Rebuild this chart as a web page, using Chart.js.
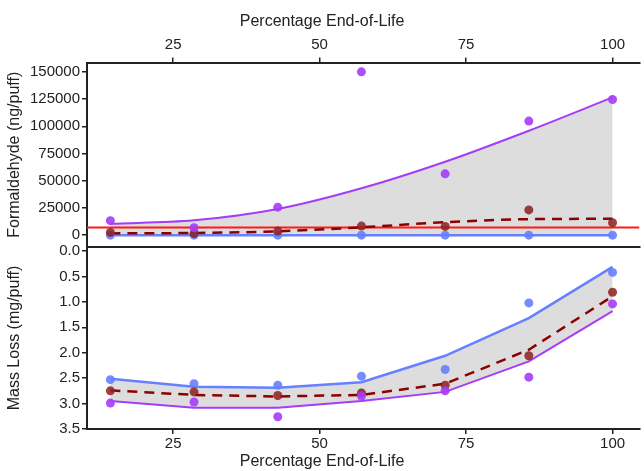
<!DOCTYPE html>
<html>
<head>
<meta charset="utf-8">
<script src="https://cdn.jsdelivr.net/npm/chart.js@4.4.0/dist/chart.umd.min.js"></script>
<style>
html, body { margin: 0; padding: 0; background: #fff; }
#wrap { position: relative; width: 644px; height: 471px; overflow: hidden; }
#top { position: absolute; left: 0; top: 0; }
#bottom { position: absolute; left: 0; top: 235px; }
</style>
</head>
<body>
<div id="wrap">
  <canvas id="top" width="644" height="258"></canvas>
  <canvas id="bottom" width="644" height="236"></canvas>
</div>
<script>
const pctLife = [14.29, 28.57, 42.86, 57.14, 71.43, 85.71, 100];
const xTicks = [25, 50, 75, 100];
const xRange = [10.3, 104.6];

// formaldehyde (ng/puff)
const formBlueObs = [0, 0, 0, 0, 0, 0, 0];
const formPurpleObs = [13300, 6800, 25700, 150000, 56300, 104800, 124600];
const formRedObs = [2500, 1500, 3700, 8300, 8000, 23200, 11400];
const formBlueFit = [0, 0, 0, 0, 0, 0, 0];
const formPurpleFit = [10500, 13600, 24000, 43000, 67400, 95900, 126500];
const formRedFit = [1600, 2000, 3500, 7200, 11900, 14700, 15000];
const formLimit = 7100;
const formTicks = [0, 25000, 50000, 75000, 100000, 125000, 150000];
const formRange = [-10900, 158600];

// mass loss (mg/puff)
const massBlueObs = [2.53, 2.61, 2.64, 2.46, 2.33, 1.02, 0.42];
const massPurpleObs = [2.99, 2.97, 3.26, 2.85, 2.75, 2.48, 1.04];
const massRedObs = [2.75, 2.77, 2.84, 2.79, 2.64, 2.06, 0.81];
const massBlueFit = [2.51, 2.67, 2.69, 2.58, 2.06, 1.32, 0.31];
const massPurpleFit = [2.95, 3.08, 3.08, 2.95, 2.77, 2.17, 1.18];
const massRedFit = [2.74, 2.83, 2.86, 2.83, 2.61, 1.94, 0.89];
const massTicks = [0, 0.5, 1, 1.5, 2, 2.5, 3, 3.5];
const massRange = [-0.08, 3.5];

const BLUE = 'rgb(102, 128, 255)';
const PURPLE = 'rgb(165, 60, 250)';
const DARKRED = 'rgb(139, 0, 0)';
const LIMIT = 'rgb(255, 25, 25)';
const FILL = 'rgb(221, 221, 221)';
const AXIS = '#222';
const FAMILY = "'Liberation Sans', Arial, sans-serif";

Chart.defaults.font.family = FAMILY;
Chart.defaults.color = '#222';
Chart.defaults.animation = false;

function pts(ys) {
    return pctLife.map((x, i) => ({x: x, y: ys[i]}));
}

function obs(ys, color) {
    return {
        data: pts(ys), showLine: false,
        pointRadius: 4.5, pointBorderWidth: 0,
        pointBackgroundColor: color, pointHoverRadius: 4.5
    };
}

function fit(ys, color, extra) {
    return Object.assign({
        data: pts(ys), borderColor: color, borderWidth: 2,
        pointRadius: 0, fill: false
    }, extra);
}

function fixTicks(list) {
    return (scale) => { scale.ticks = list.map(v => ({value: v})); };
}

function xAxis(position, showLabels) {
    return {
        type: 'linear', position: position,
        min: xRange[0], max: xRange[1],
        afterBuildTicks: fixTicks(xTicks),
        ticks: {display: showLabels, padding: position == 'top' ? 5 : 2, font: {size: 15, lineHeight: 1}},
        grid: {display: showLabels, drawTicks: showLabels, drawOnChartArea: false,
               tickLength: 5, color: AXIS, lineWidth: 1.5},
        border: {display: true, color: AXIS, width: 2}
    };
}

function yAxis(range, list, label, fmt, reverse) {
    return {
        type: 'linear', position: 'left', reverse: reverse,
        min: range[0], max: range[1],
        afterBuildTicks: fixTicks(list),
        afterFit: (scale) => { scale.width = 87; },
        ticks: {padding: 2, font: {size: 15, lineHeight: 1}, callback: fmt},
        grid: {drawOnChartArea: false, tickLength: 5, color: AXIS, lineWidth: 1.5},
        border: {display: true, color: AXIS, width: 2},
        title: {display: true, text: label, font: {size: 16}, padding: 5}
    };
}

let topChart = new Chart(document.getElementById('top'), {
    type: 'line',
    data: {
        datasets: [
            obs(formPurpleObs, 'rgba(165, 60, 250, 0.9)'),
            obs(formRedObs, 'rgba(140, 30, 30, 0.85)'),
            obs(formBlueObs, 'rgba(102, 128, 255, 0.9)'),
            fit(formRedFit, DARKRED, {borderDash: [10, 7], borderWidth: 2.5, cubicInterpolationMode: 'monotone'}),
            {data: [{x: xRange[0], y: formLimit}, {x: xRange[1], y: formLimit}],
             borderColor: LIMIT, borderWidth: 2, pointRadius: 0, fill: false},
            fit(formBlueFit, BLUE, {borderWidth: 2.5}),
            fit(formPurpleFit, PURPLE, {cubicInterpolationMode: 'monotone', fill: {target: 5}, backgroundColor: FILL})
        ]
    },
    options: {
        responsive: false,
        layout: {padding: {bottom: 11, right: 0}},
        plugins: {
            legend: {display: false},
            tooltip: {enabled: false},
            filler: {drawTime: 'beforeDatasetsDraw'},
            title: {display: true, position: 'top', text: 'Percentage End-of-Life',
                    font: {size: 16, weight: 'normal', lineHeight: 1.125}, color: '#222',
                    padding: {top: 13, bottom: 1.5}}
        },
        scales: {
            x: xAxis('top', true),
            y: yAxis(formRange, formTicks, 'Formaldehyde (ng/puff)', v => String(v), false)
        }
    }
});

let bottomChart = new Chart(document.getElementById('bottom'), {
    type: 'line',
    data: {
        datasets: [
            obs(massPurpleObs, 'rgba(165, 60, 250, 0.9)'),
            obs(massRedObs, 'rgba(140, 30, 30, 0.85)'),
            obs(massBlueObs, 'rgba(102, 128, 255, 0.9)'),
            fit(massRedFit, DARKRED, {borderDash: [10, 7], borderWidth: 2.5}),
            fit(massPurpleFit, PURPLE),
            fit(massBlueFit, BLUE, {borderWidth: 2.5, fill: {target: 4}, backgroundColor: FILL})
        ]
    },
    options: {
        responsive: false,
        layout: {padding: {top: 12, right: 0}},
        plugins: {
            legend: {display: false},
            tooltip: {enabled: false},
            filler: {drawTime: 'beforeDatasetsDraw'},
            title: {display: true, position: 'bottom', text: 'Percentage End-of-Life',
                    font: {size: 16, weight: 'normal', lineHeight: 1.125}, color: '#222',
                    padding: {top: 0, bottom: 0}}
        },
        scales: {
            x: xAxis('bottom', true),
            xTop: xAxis('top', false),
            y: yAxis(massRange, massTicks, 'Mass Loss (mg/puff)', v => v.toFixed(1), true)
        }
    }
});
</script>
</body>
</html>
